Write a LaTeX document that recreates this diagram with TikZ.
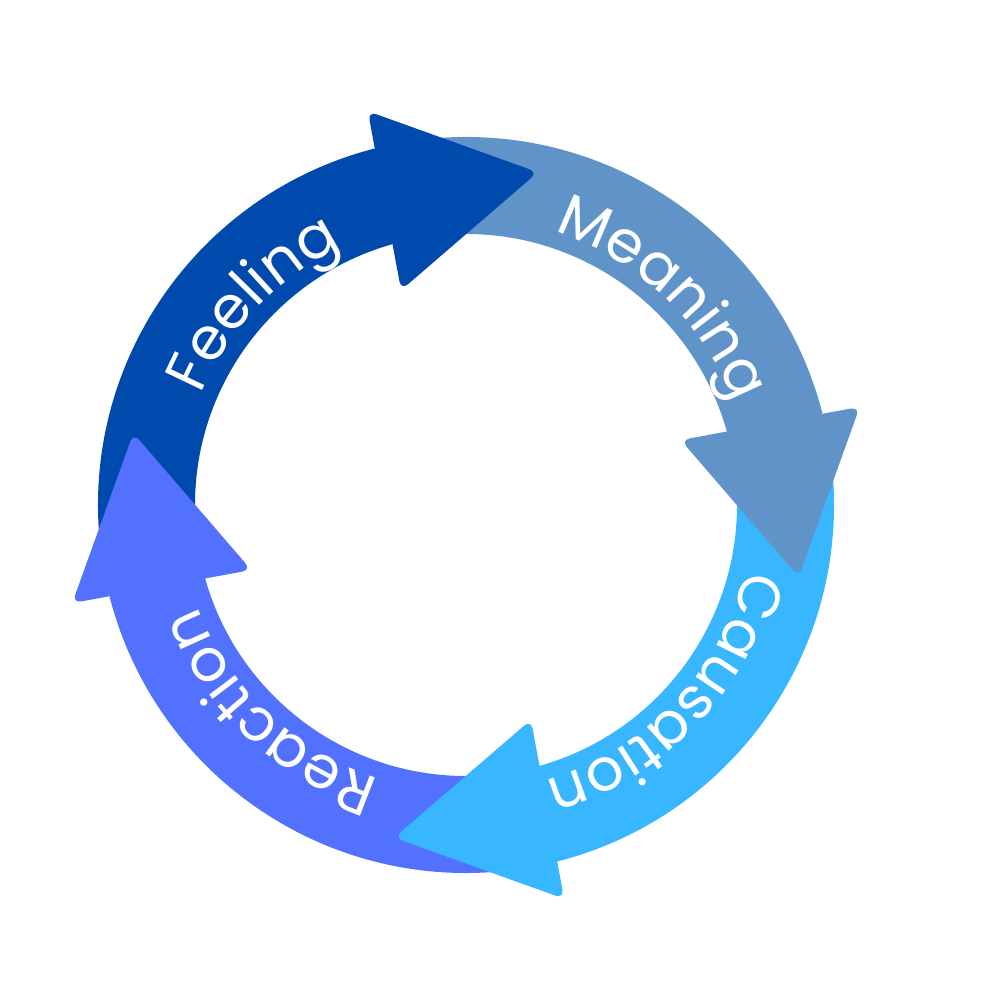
\documentclass[tikz,border=0pt]{standalone}
\usepackage{fontspec}
\setmainfont{Poppins}
\usepackage{tikz}
\usetikzlibrary{decorations.text}
\definecolor{FeelBlue} {HTML}{004AAD}
\definecolor{MeanBlue} {HTML}{6094C8}
\definecolor{CauseBlue}{HTML}{38B6FF}
\definecolor{ReactBlue}{HTML}{5271FF}
\newcommand{\cyclefont}{\fontsize{16.8}{20}\selectfont}

\begin{document}
\begin{tikzpicture}[
    head/.style={fill=#1,rounded corners=0.09cm},
    cyclelabel/.style={decorate,decoration={text along path,text align=center,
        text color=white,text={|\cyclefont|#1}}}]
  \useasboundingbox (-4.66,-4.95) rectangle (5.34,5.05);
  % bands, tail to head
  \foreach \b/\c in {105/FeelBlue,15/MeanBlue,-75/CauseBlue,-165/ReactBlue}
    \fill[\c] (\b+80:3.68) arc[start angle=\b+80,end angle=\b-2,radius=3.68]
      -- (\b-2:2.71) arc[start angle=\b-2,end angle=\b+80,radius=2.71] -- cycle;
  % heads last, each one covers the next tail
  \foreach \b/\c in {105/FeelBlue,15/MeanBlue,-75/CauseBlue,-165/ReactBlue}
    \fill[head=\c,shift={(\b:3.15)},rotate=\b-94.5]
      (0,0.91) -- (1.56,0) -- (0,-0.91) -- cycle;
  % labels
  \foreach \b/\t in {105/Feeling,15/Meaning,-75/Causation,-165/Reaction}
    \path[cyclelabel=\t] (\b+72:2.87) arc[start angle=\b+72,end angle=\b-9,radius=2.87];
\end{tikzpicture}
\end{document}
